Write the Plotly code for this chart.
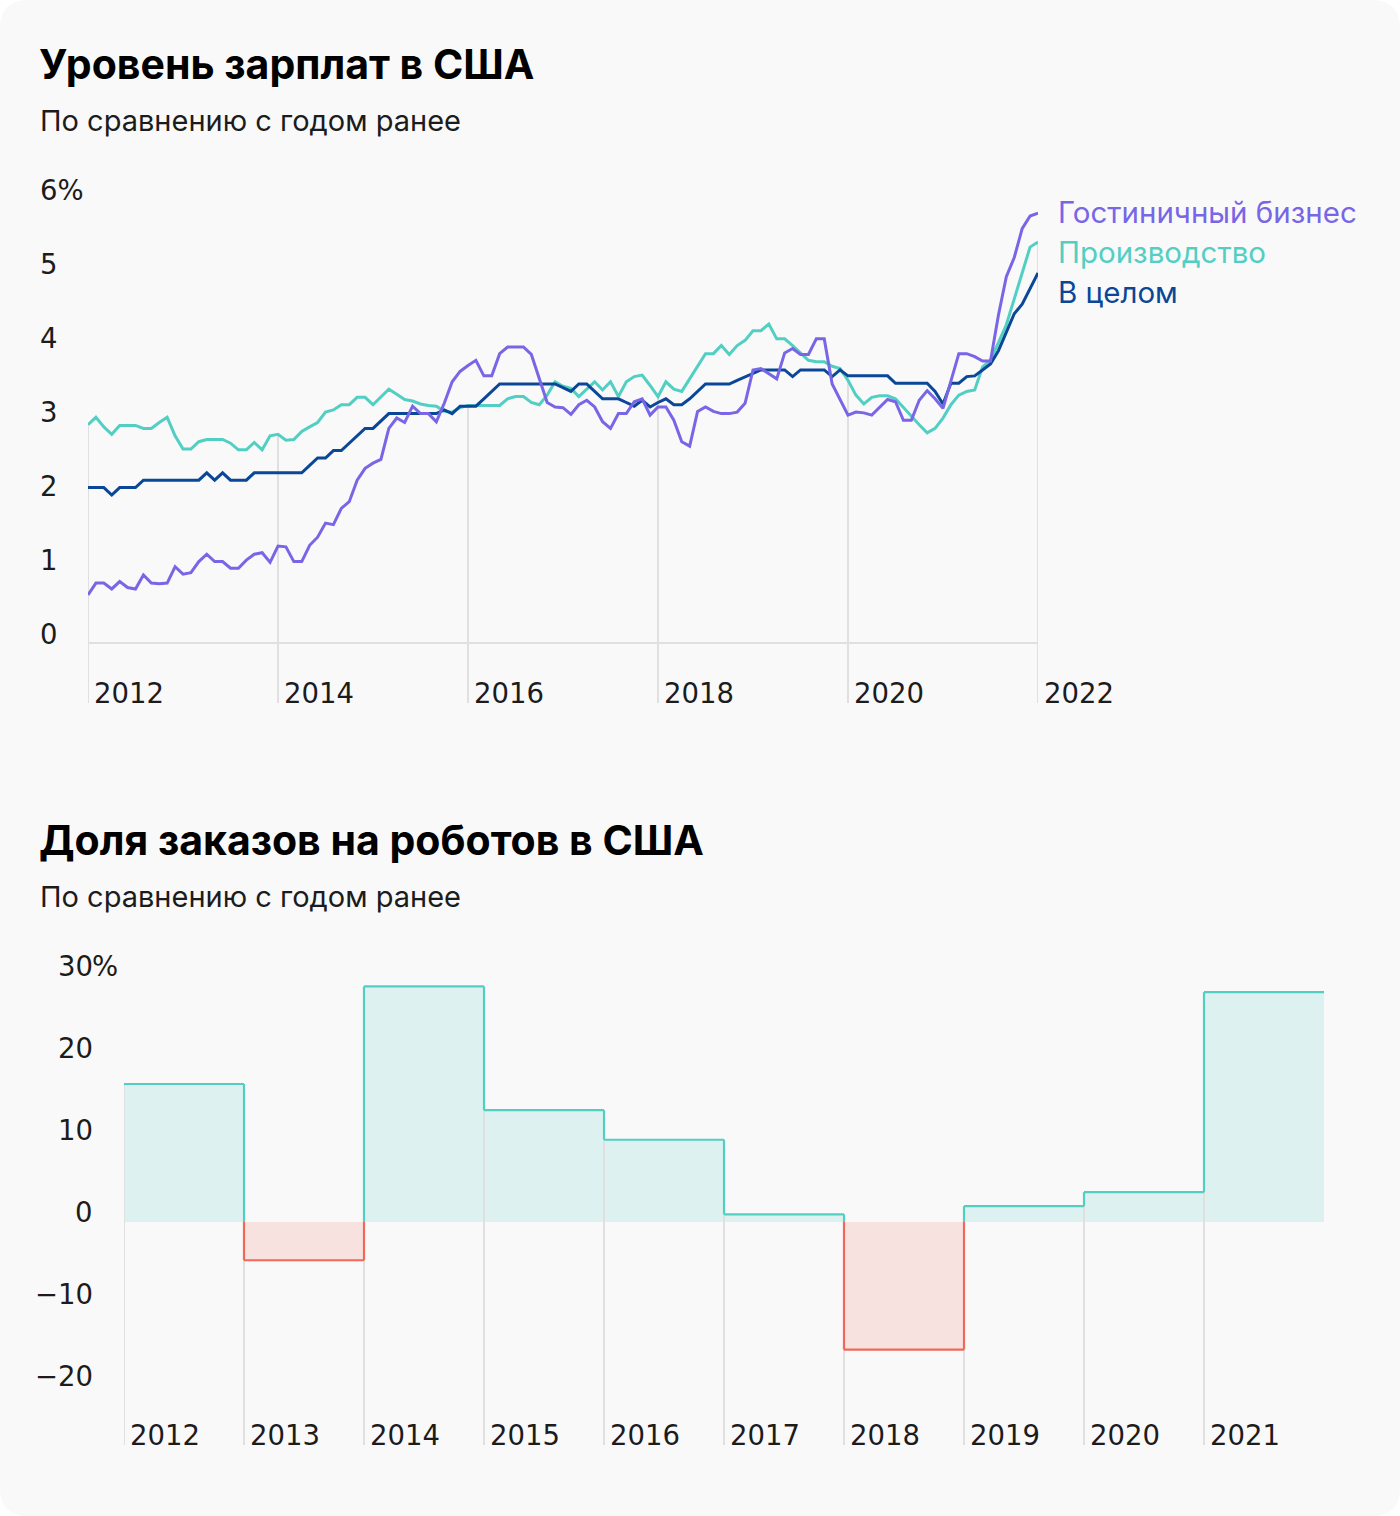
import plotly.graph_objects as go

W, H = 1400, 1516

# ---------------- data: wages (monthly, Jan 2012 ... Jan 2022), % y/y ----------------
top_tick_years = [2012, 2014, 2016, 2018, 2020, 2022]
top_y_ticks = [0, 1, 2, 3, 4, 5, 6]

overall = [
    2.1, 2.1, 2.1, 2.0, 2.1, 2.1, 2.1, 2.2, 2.2, 2.2, 2.2, 2.2,
    2.2, 2.2, 2.2, 2.3, 2.2, 2.3, 2.2, 2.2, 2.2, 2.3, 2.3, 2.3,
    2.3, 2.3, 2.3, 2.3, 2.4, 2.5, 2.5, 2.6, 2.6, 2.7, 2.8, 2.9,
    2.9, 3.0, 3.1, 3.1, 3.1, 3.1, 3.1, 3.1, 3.1, 3.15, 3.1, 3.2,
    3.2, 3.2, 3.3, 3.4, 3.5, 3.5, 3.5, 3.5, 3.5, 3.5, 3.5, 3.5,
    3.45, 3.4, 3.5, 3.5, 3.4, 3.3, 3.3, 3.3, 3.25, 3.2, 3.28, 3.19,
    3.25, 3.3, 3.22, 3.22, 3.3, 3.4, 3.5, 3.5, 3.5, 3.5, 3.55, 3.6,
    3.65, 3.69, 3.69, 3.69, 3.69, 3.6, 3.69, 3.69, 3.69, 3.69, 3.6, 3.69,
    3.61, 3.61, 3.61, 3.61, 3.61, 3.61, 3.51, 3.51, 3.51, 3.51, 3.51, 3.4,
    3.23, 3.51, 3.51, 3.6, 3.61, 3.69, 3.77, 3.95, 4.2, 4.45, 4.58, 4.8,
    5.0,
]

manufacturing = [
    2.95, 3.05, 2.92, 2.82, 2.94, 2.94, 2.94, 2.90, 2.90, 2.98, 3.05, 2.80,
    2.62, 2.62, 2.72, 2.75, 2.75, 2.75, 2.70, 2.61, 2.61, 2.71, 2.61, 2.80,
    2.82, 2.74, 2.75, 2.86, 2.92, 2.98, 3.12, 3.15, 3.22, 3.22, 3.32, 3.32,
    3.22, 3.32, 3.43, 3.36, 3.29, 3.27, 3.23, 3.21, 3.20, 3.13, 3.12, 3.18,
    3.21, 3.21, 3.21, 3.21, 3.21, 3.30, 3.33, 3.33, 3.25, 3.22, 3.35, 3.53,
    3.47, 3.44, 3.33, 3.43, 3.53, 3.42, 3.53, 3.33, 3.53, 3.60, 3.62, 3.48,
    3.33, 3.53, 3.43, 3.40, 3.57, 3.74, 3.91, 3.91, 4.02, 3.90, 4.02, 4.09,
    4.22, 4.22, 4.31, 4.11, 4.11, 4.02, 3.92, 3.82, 3.80, 3.80, 3.74, 3.71,
    3.55, 3.35, 3.23, 3.32, 3.34, 3.34, 3.30, 3.18, 3.06, 2.95, 2.84, 2.90,
    3.04, 3.22, 3.35, 3.40, 3.42, 3.73, 3.82, 4.05, 4.30, 4.65, 5.00, 5.35,
    5.42,
]

hospitality = [
    0.65, 0.81, 0.81, 0.73, 0.83, 0.75, 0.73, 0.92, 0.81, 0.80, 0.81, 1.03,
    0.93, 0.95, 1.10, 1.20, 1.10, 1.10, 1.01, 1.01, 1.12, 1.20, 1.22, 1.09,
    1.31, 1.30, 1.10, 1.10, 1.32, 1.43, 1.62, 1.60, 1.82, 1.91, 2.20, 2.36,
    2.43, 2.48, 2.90, 3.04, 2.98, 3.20, 3.10, 3.10, 2.99, 3.24, 3.53, 3.67,
    3.75, 3.82, 3.61, 3.61, 3.91, 4.00, 4.00, 4.00, 3.90, 3.57, 3.25, 3.19,
    3.18, 3.09, 3.22, 3.28, 3.19, 2.99, 2.90, 3.10, 3.10, 3.26, 3.30, 3.08,
    3.19, 3.19, 3.01, 2.72, 2.66, 3.13, 3.19, 3.13, 3.10, 3.10, 3.12, 3.24,
    3.69, 3.71, 3.64, 3.57, 3.92, 3.98, 3.90, 3.90, 4.11, 4.11, 3.50, 3.29,
    3.08, 3.12, 3.11, 3.08, 3.18, 3.29, 3.26, 3.01, 3.01, 3.28, 3.41, 3.30,
    3.17, 3.55, 3.91, 3.91, 3.87, 3.81, 3.81, 4.43, 4.95, 5.21, 5.60, 5.77,
    5.81,
]

# ---------------- data: robot orders, % y/y ----------------
bar_years = [2012, 2013, 2014, 2015, 2016, 2017, 2018, 2019, 2020, 2021]
robot_orders = [16.8, -4.7, 28.7, 13.6, 10.0, 0.9, -15.6, 1.9, 3.6, 28.0]
bottom_y_ticks = [30, 20, 10, 0, -10, -20]

# ---------------- styling ----------------
BG = "#f9f9f9"
PURPLE = "#7866e6"
TEAL = "#52cfc3"
NAVY = "#0a4797"
RED = "#f0685a"
GRID = "#e0e0e0"
TXT = "#1c1c1c"
FONT = "Inter"
NUMFONT = "DejaVu Sans"

TOP_RANGE = [-0.811, 6.257]
BOT_RANGE = [-27.23, 33.14]


def py(p):
    return 1 - p / H


def pxx(p):
    return p / W


months = [2012 + i / 12 for i in range(len(overall))]

fig = go.Figure()

# --- top chart gridlines (from below the axis up to the manufacturing line) ---
gx, gy = [], []
for t in top_tick_years:
    idx = (t - 2012) * 12
    gx += [t, t, None]
    gy += [TOP_RANGE[0], manufacturing[idx], None]
fig.add_trace(go.Scatter(x=gx, y=gy, mode="lines", line=dict(color=GRID, width=2),
                         hoverinfo="skip", showlegend=False, xaxis="x", yaxis="y"))
# axis line at zero
fig.add_trace(go.Scatter(x=[top_tick_years[0], top_tick_years[-1]], y=[0, 0], mode="lines",
                         line=dict(color=GRID, width=2), hoverinfo="skip",
                         showlegend=False, xaxis="x", yaxis="y"))

for name, vals, col in [("Производство", manufacturing, TEAL),
                        ("В целом", overall, NAVY),
                        ("Гостиничный бизнес", hospitality, PURPLE)]:
    fig.add_trace(go.Scatter(x=months, y=vals, mode="lines", name=name,
                             line=dict(color=col, width=3), showlegend=False,
                             xaxis="x", yaxis="y"))

# --- bottom chart gridlines ---
bgx, bgy = [], []
for i, yr in enumerate(bar_years):
    hi = max(robot_orders[i], robot_orders[i - 1] if i > 0 else 0, 0)
    bgx += [yr, yr, None]
    bgy += [BOT_RANGE[0], hi, None]
fig.add_trace(go.Scatter(x=bgx, y=bgy, mode="lines", line=dict(color=GRID, width=2),
                         hoverinfo="skip", showlegend=False, xaxis="x2", yaxis="y2"))

# --- bars (fills) ---
fig.add_trace(go.Bar(
    x=[y + 0.5 for y in bar_years], y=robot_orders, width=1,
    marker=dict(color=["rgba(82,207,195,0.17)" if v >= 0 else "rgba(240,104,90,0.16)"
                       for v in robot_orders], line=dict(width=0)),
    showlegend=False, xaxis="x2", yaxis="y2"))

# --- step outline ---
tx, ty, rx, ry = [], [], [], []
for i, (yr, v) in enumerate(zip(bar_years, robot_orders)):
    if v >= 0:
        tx += [yr, yr + 1, None]
        ty += [v, v, None]
    else:
        rx += [yr, yr + 1, None]
        ry += [v, v, None]
    if i > 0:
        p = robot_orders[i - 1]
        hi, lo = max(p, v), min(p, v)
        if hi > 0:
            tx += [yr, yr, None]
            ty += [max(lo, 0), hi, None]
        if lo < 0:
            rx += [yr, yr, None]
            ry += [lo, min(hi, 0), None]
fig.add_trace(go.Scatter(x=tx, y=ty, mode="lines", line=dict(color=TEAL, width=2.2),
                         hoverinfo="skip", showlegend=False, xaxis="x2", yaxis="y2"))
fig.add_trace(go.Scatter(x=rx, y=ry, mode="lines", line=dict(color=RED, width=2.2),
                         hoverinfo="skip", showlegend=False, xaxis="x2", yaxis="y2"))

# ---------------- annotations ----------------
ann = []


def txt(text, x, y, size, color=TXT, xanchor="left", xref="paper", yref="paper",
        xshift=0, yshift=0, family=FONT):
    ann.append(dict(text=text, x=x, y=y, xref=xref, yref=yref, xanchor=xanchor,
                    yanchor="middle", showarrow=False, xshift=xshift, yshift=yshift,
                    borderpad=0, font=dict(family=family, size=size, color=color)))


txt("<b>Уровень зарплат в США</b>", pxx(38), py(64), 41, color="#000000")
txt("По сравнению с годом ранее", pxx(39), py(120), 29)
txt("<b>Доля заказов на роботов в США</b>", pxx(38), py(840), 41, color="#000000")
txt("По сравнению с годом ранее", pxx(39), py(896), 29)

# top y tick labels
for v in top_y_ticks:
    lab = f"{v}%" if v == top_y_ticks[-1] else f"{v}"
    txt(lab, pxx(39), v, 27.5, yref="y", yshift=9, family=NUMFONT)
# top x tick labels
for t in top_tick_years:
    txt(str(t), t, -0.676, 27.5, xref="x", yref="y", xshift=5, family=NUMFONT)

# series labels
txt("Гостиничный бизнес", pxx(1057), py(212), 29.5, color=PURPLE)
txt("Производство", pxx(1057), py(252), 29.5, color=TEAL)
txt("В целом", pxx(1057), py(292), 29.5, color=NAVY)

# bottom y tick labels
for v in bottom_y_ticks:
    lab = f"{v}" if v >= 0 else f"−{abs(v)}"
    txt(lab, pxx(94), v, 27.5, xanchor="right", yref="y2", yshift=10, family=NUMFONT)
    if v == max(bottom_y_ticks):
        txt("%", pxx(94), v, 27.5, xanchor="left", yref="y2", yshift=10, xshift=-3,
            family=NUMFONT)
# bottom x tick labels
for yr in bar_years:
    txt(str(yr), yr, -26.0, 27.5, xref="x2", yref="y2", xshift=5, family=NUMFONT)

# rounded card background
rx_, ry_ = 28 / W, 28 / H
card = (f"M {rx_},0 L {1-rx_},0 Q 1,0 1,{ry_} L 1,{1-ry_} Q 1,1 {1-rx_},1 "
        f"L {rx_},1 Q 0,1 0,{1-ry_} L 0,{ry_} Q 0,0 {rx_},0 Z")

axis_off = dict(showgrid=False, zeroline=False, showline=False, showticklabels=False,
                ticks="", fixedrange=True)

fig.update_layout(
    width=W, height=H,
    margin=dict(l=0, r=0, t=0, b=0),
    paper_bgcolor="white",
    plot_bgcolor="rgba(0,0,0,0)",
    bargap=0,
    showlegend=False,
    xaxis=dict(domain=[pxx(88), pxx(1038)], range=[2012, 2022], anchor="y", **axis_off),
    yaxis=dict(domain=[py(703), py(180)], range=TOP_RANGE, anchor="x", **axis_off),
    xaxis2=dict(domain=[pxx(124), pxx(1324)], range=[2012, 2022], anchor="y2", **axis_off),
    yaxis2=dict(domain=[py(1445), py(950)], range=BOT_RANGE, anchor="x2", **axis_off),
    shapes=[dict(type="path", path=card, xref="paper", yref="paper",
                 fillcolor=BG, line=dict(width=0), layer="below")],
    annotations=ann,
)

fig.write_html(
    "out.html",
    config={"displayModeBar": False},
    post_script="document.body.style.margin='0px';document.body.style.overflow='hidden';",
)
